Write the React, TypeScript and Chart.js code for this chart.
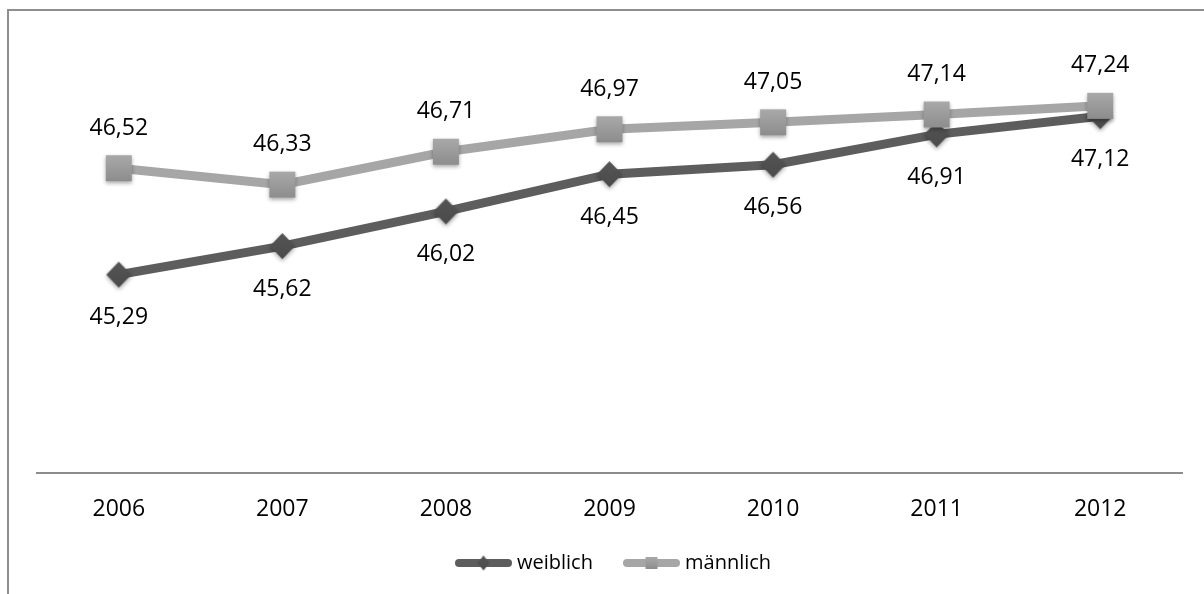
import React, { useEffect, useRef } from "react";
import { Chart, registerables } from "chart.js";

Chart.register(...registerables);

const years = ["2006", "2007", "2008", "2009", "2010", "2011", "2012"];
const weiblich = [45.29, 45.62, 46.02, 46.45, 46.56, 46.91, 47.12];
const maennlich = [46.52, 46.33, 46.71, 46.97, 47.05, 47.14, 47.24];
const seriesNames = ["weiblich", "männlich"];

const FONT = "'Open Sans', 'Noto Sans', sans-serif";
const DARK = "#5d5d5d";
const LIGHT = "#a6a6a6";

function makeSquare(side: number, shadow: boolean) {
  const pad = 6;
  const c = document.createElement("canvas");
  c.width = side + pad * 2;
  c.height = side + pad * 2;
  const ctx = c.getContext("2d")!;
  if (shadow) {
    ctx.shadowColor = "rgba(0,0,0,0.35)";
    ctx.shadowBlur = 4;
    ctx.shadowOffsetY = 2;
  }
  const g = ctx.createLinearGradient(0, pad, 0, pad + side);
  g.addColorStop(0, "#a9a9a9");
  g.addColorStop(1, "#8d8d8d");
  ctx.fillStyle = g;
  ctx.fillRect(pad, pad, side, side);
  return c;
}

function makeDiamond(w: number, h: number, shadow: boolean) {
  const pad = 6;
  const c = document.createElement("canvas");
  c.width = w + pad * 2;
  c.height = h + pad * 2;
  const ctx = c.getContext("2d")!;
  if (shadow) {
    ctx.shadowColor = "rgba(0,0,0,0.35)";
    ctx.shadowBlur = 4;
    ctx.shadowOffsetY = 2;
  }
  const cx = pad + w / 2;
  const cy = pad + h / 2;
  const g = ctx.createLinearGradient(0, pad, 0, pad + h);
  g.addColorStop(0, "#555555");
  g.addColorStop(1, "#4a4a4a");
  ctx.fillStyle = g;
  ctx.beginPath();
  ctx.moveTo(cx, pad);
  ctx.lineTo(pad + w, cy);
  ctx.lineTo(cx, pad + h);
  ctx.lineTo(pad, cy);
  ctx.closePath();
  ctx.fill();
  return c;
}

const fmt = (v: number) => v.toFixed(2).replace(".", ",");

export default function App() {
  const ref = useRef<HTMLCanvasElement | null>(null);

  useEffect(() => {
    if (!ref.current) return;
    const square = makeSquare(26, true);
    const diamond = makeDiamond(25, 26, true);
    const squareSmall = makeSquare(12, false);
    const diamondSmall = makeDiamond(12, 15, false);

    const framePlugin = {
      id: "frame",
      beforeDraw(chart: any) {
        const ctx = chart.ctx;
        ctx.save();
        ctx.fillStyle = "#ffffff";
        ctx.fillRect(0, 0, chart.width, chart.height);
        ctx.fillStyle = "#8e8e8e";
        ctx.fillRect(7, 9, 2, chart.height);
        ctx.fillRect(7, 9, chart.width, 2);
        ctx.restore();
      },
    };

    const labelPlugin = {
      id: "valueLabels",
      afterDatasetsDraw(chart: any) {
        const ctx = chart.ctx;
        ctx.save();
        ctx.font = `23px ${FONT}`;
        ctx.fillStyle = "#000";
        ctx.textAlign = "center";
        ctx.textBaseline = "middle";
        chart.data.datasets.forEach((ds: any, di: number) => {
          const meta = chart.getDatasetMeta(di);
          meta.data.forEach((pt: any, i: number) => {
            const above = ds.label === "männlich";
            const y = above ? pt.y - 40 : pt.y + 43;
            ctx.fillText(fmt(ds.data[i]), pt.x, y);
          });
        });
        ctx.restore();
      },
    };

    const legendPlugin = {
      id: "customLegend",
      afterDraw(chart: any) {
        const ctx = chart.ctx;
        ctx.save();
        const y = 563;
        const items = [
          { x: 455, color: DARK, marker: diamondSmall, text: seriesNames[0] },
          { x: 623, color: LIGHT, marker: squareSmall, text: seriesNames[1] },
        ];
        items.forEach((it) => {
          ctx.strokeStyle = it.color;
          ctx.lineWidth = 8;
          ctx.lineCap = "round";
          ctx.beginPath();
          ctx.moveTo(it.x + 4, y);
          ctx.lineTo(it.x + 53, y);
          ctx.stroke();
          const m = it.marker;
          ctx.drawImage(m, it.x + 28.5 - m.width / 2, y - m.height / 2);
          ctx.font = `20px ${FONT}`;
          ctx.fillStyle = "#000";
          ctx.textAlign = "left";
          ctx.textBaseline = "middle";
          ctx.fillText(it.text, it.x + 62, y);
        });
        ctx.restore();
      },
    };

    const chart = new Chart(ref.current, {
      type: "line",
      data: {
        labels: years,
        datasets: [
          {
            label: seriesNames[0],
            data: weiblich,
            borderColor: DARK,
            backgroundColor: DARK,
            borderWidth: 9,
            pointStyle: diamond as any,
            pointRadius: 13,
            order: 2,
          },
          {
            label: seriesNames[1],
            data: maennlich,
            borderColor: LIGHT,
            backgroundColor: LIGHT,
            borderWidth: 9,
            pointStyle: square as any,
            pointRadius: 13,
            order: 1,
          },
        ],
      },
      options: {
        responsive: false,
        animation: false,
        layout: { padding: { left: 37, right: 13, top: 40, bottom: 71 } },
        plugins: {
          legend: { display: false },
          tooltip: { enabled: false },
        },
        scales: {
          x: {
            offset: true,
            grid: { display: false, drawTicks: false },
            border: { display: true, color: "#8c8c8c", width: 2 },
            ticks: {
              color: "#000",
              font: { family: FONT, size: 23 },
              padding: 23,
            },
            afterFit(scale: any) {
              scale.height = 50;
            },
          },
          y: {
            display: false,
            min: 43,
            max: 48,
          },
        },
      },
      plugins: [framePlugin, labelPlugin, legendPlugin],
    });
    return () => chart.destroy();
  }, []);

  return (
    <div style={{ position: "fixed", left: 0, top: 0, width: 1204, height: 594, overflow: "hidden" }}>
      <canvas ref={ref} width={1204} height={594} style={{ display: "block" }} />
    </div>
  );
}
